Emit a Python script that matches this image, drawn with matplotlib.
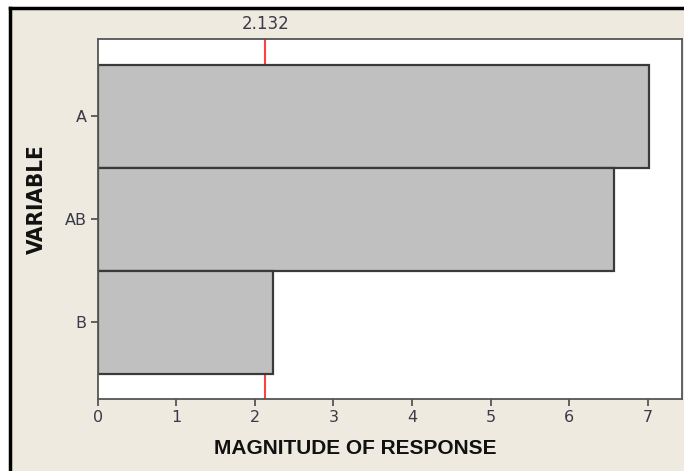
import matplotlib
matplotlib.use('Agg')
from matplotlib import pyplot as plt
from matplotlib.patches import Rectangle

variables = ['A', 'AB', 'B']
magnitude = [7.01, 6.57, 2.23]
ref_value = 2.132
x_ticks = [0, 1, 2, 3, 4, 5, 6, 7]

bg = '#EEEADF'
tick_color = '#3a3a48'

fig = plt.figure(figsize=(6.84, 4.71), dpi=100)
fig.patch.set_facecolor('white')

# beige panel with black frame on left/top
fig.add_artist(Rectangle((10/684, 0), 1, (471-8)/471, transform=fig.transFigure,
                         facecolor=bg, edgecolor='none', zorder=-2))
fig.add_artist(plt.Line2D([10/684, 10/684], [0, (471-8)/471], transform=fig.transFigure,
                          color='black', lw=2.5))
fig.add_artist(plt.Line2D([10/684, 1], [(471-8)/471, (471-8)/471], transform=fig.transFigure,
                          color='black', lw=2.5))

ax = fig.add_axes([97.7/684, (471-399.3)/471, (682-97.7)/684, (399.3-39.3)/471])
ax.set_facecolor('white')

ypos = list(range(len(variables)))[::-1]
ax.barh(ypos, magnitude, height=1.0, color='#C0C0C0', edgecolor='#3a3a3a', linewidth=1.6)
ax.axvline(ref_value, color='#ff4040', lw=1.5, zorder=0)

ax.set_xlim(0, 7.434)
ax.set_ylim(-0.75, 2.75)
ax.set_xticks(x_ticks)
ax.set_yticks(ypos)
ax.set_yticklabels(variables)

for s in ax.spines.values():
    s.set_color('#555555')
    s.set_linewidth(1.3)

ax.tick_params(axis='both', direction='out', length=5, width=1.3, color='#555555',
               labelcolor=tick_color, labelsize=11.5)
ax.tick_params(axis='x', pad=3)
ax.tick_params(axis='y', pad=3)

ax.text(ref_value, 1.0 + 6/360, '%.3f' % ref_value, transform=ax.get_xaxis_transform(),
        ha='center', va='bottom', fontsize=12, color=tick_color)

fig.text(355/684, 1 - 449/471, 'MAGNITUDE OF RESPONSE', ha='center', va='center',
         fontsize=15, fontweight='bold', family=['Liberation Sans', 'DejaVu Sans'],
         color='#111111')
fig.text(36.5/684, 1 - 199/471, 'VARIABLE', ha='center', va='center', rotation=90,
         fontsize=16, fontweight='bold', fontstretch='condensed',
         family=['DejaVu Sans'], color='#111111')

plt.savefig('out.png', dpi=100)
